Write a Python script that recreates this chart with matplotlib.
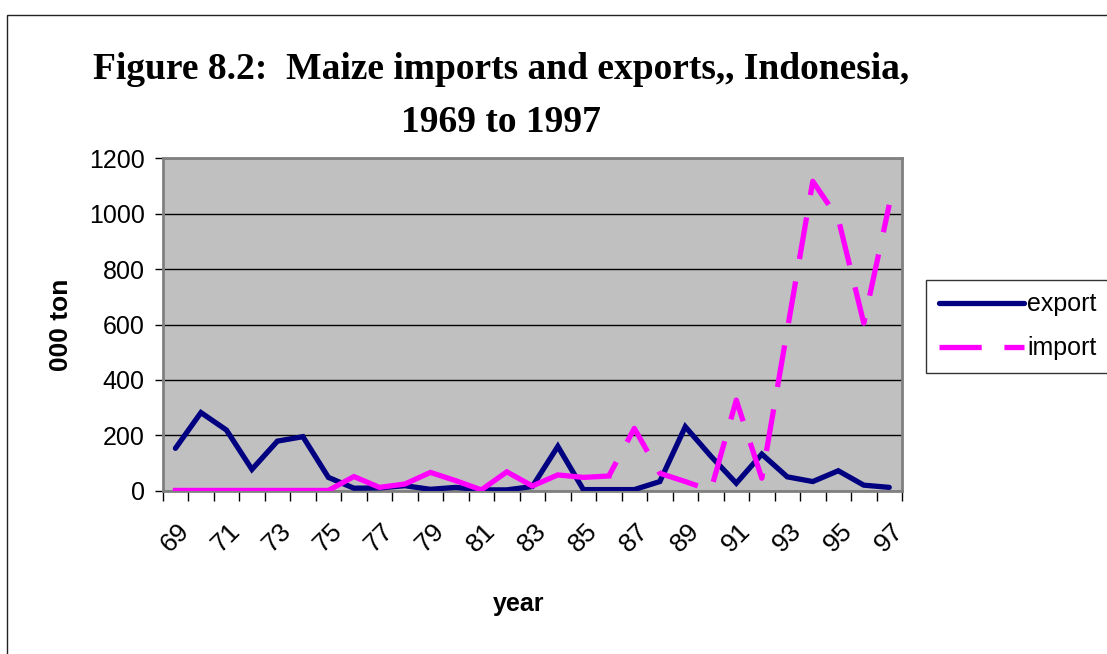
import matplotlib
matplotlib.use("Agg")
import matplotlib.pyplot as plt
import numpy as np
from matplotlib.patches import Rectangle
from matplotlib.lines import Line2D

plt.rcParams["font.family"] = ["Liberation Sans", "DejaVu Sans"]

# data (000 ton)
years = list(range(1969, 1998))
tick_labels = [str(y)[2:] for y in years[::2]]
export = [153, 282, 219, 77, 179, 195, 48, 9, 10, 18, 5, 12, 3, 3, 15,
          160, 4, 4, 4, 33, 231, 125, 27, 132, 50, 33, 72, 20, 12]
imports = [1, 1, 1, 1, 1, 1, 1, 51, 12, 24, 66, 36, 3, 68, 17,
           57, 48, 53, 225, 63, 33, 1, 327, 45, 580, 1117, 982, 605, 1032]

W, H = 1107, 654
fig = plt.figure(figsize=(W / 100, H / 100), dpi=100)
fig.patch.set_facecolor("white")

# outer chart frame (cut off at right and bottom in the reference)
fig.patches.append(Rectangle((7 / W, -0.1), 1.2, 1.1 - 15 / H, transform=fig.transFigure,
                             fill=False, edgecolor="#222222", linewidth=1.0))

ax = fig.add_axes([162.7 / W, 1 - 490.7 / H, 739.3 / W, 332.4 / H])
ax.set_facecolor("#C0C0C0")

x = np.arange(len(years))
exp_line, = ax.plot(x, export, color="#000080", linewidth=3.8, solid_joinstyle="miter",
                    solid_capstyle="round", zorder=3)
# the import line renders solid along the low stretch, dashed from 1986 on
ax.plot(x[:18], imports[:18], color="#FF00FF", linewidth=3.8, solid_joinstyle="miter", zorder=4)
ax.plot(x[17:], imports[17:], color="#FF00FF", linewidth=3.8, linestyle=(5, (8, 4.3)),
        dash_capstyle="butt", zorder=4)

ax.set_xlim(-0.5, len(years) - 0.5)
ax.set_ylim(0, 1200)
ax.set_yticks(np.arange(0, 1201, 200))
ax.yaxis.grid(True, color="black", linewidth=1.0)
ax.set_axisbelow(True)
ax.tick_params(axis="y", labelsize=18, length=6, width=1, direction="out", pad=7)

ax.set_xticks(np.arange(-0.5, len(years), 1))
ax.set_xticklabels([])
ax.tick_params(axis="x", which="major", length=7, width=1, direction="out")
ax.set_xticks(x[::2], minor=True)
ax.set_xticklabels(tick_labels, minor=True, rotation=45, ha="center", va="top", fontsize=19)
ax.tick_params(axis="x", which="minor", length=0, pad=20)

for s in ax.spines.values():
    s.set_color("#808080")
    s.set_linewidth(2.0)

fig.text(61 / W, 1 - 325 / H, "000 ton", rotation=90, ha="center", va="center",
         fontsize=19, fontweight="bold")
fig.text(519 / W, 1 - 604 / H, "year", ha="center", va="center",
         fontsize=18, fontweight="bold")

fig.text(501 / W, 1 - 96 / H, "Figure 8.2:  Maize imports and exports,, Indonesia,\n1969 to 1997",
         ha="center", va="center", multialignment="center", fontsize=27, fontweight="bold",
         family="Liberation Serif", linespacing=1.65)

imp_handle = Line2D([], [], color="#FF00FF", linewidth=3.8, linestyle=(0, (8, 4.3)),
                    dash_capstyle="butt")
leg = ax.legend([exp_line, imp_handle], ["export", "import"], loc="upper left",
                bbox_to_anchor=(926 / W, 1 - 280 / H),
                bbox_transform=fig.transFigure, fontsize=18, frameon=True, fancybox=False,
                handlelength=3.4, handletextpad=0.15, borderpad=0.5, labelspacing=0.8,
                borderaxespad=0)
leg.get_frame().set_edgecolor("black")
leg.get_frame().set_linewidth(1.0)

fig.savefig("out.png", dpi=100)
